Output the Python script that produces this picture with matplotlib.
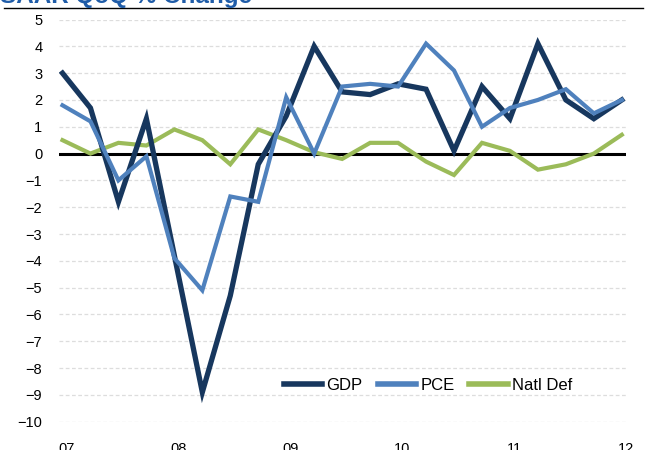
import matplotlib

matplotlib.use("Agg")

import matplotlib.pyplot as plt
from matplotlib.lines import Line2D

# quarterly SAAR % change, 2007Q1 .. 2012Q1
quarters = list(range(21))
gdp = [3.0, 1.7, -1.8, 1.3, -3.8, -8.9, -5.3, -0.4, 1.4, 4.0, 2.3,
       2.2, 2.6, 2.4, 0.1, 2.5, 1.3, 4.1, 2.0, 1.3, 2.0]
pce = [1.8, 1.2, -1.0, -0.1, -3.9, -5.1, -1.6, -1.8, 2.1, 0.0, 2.5,
       2.6, 2.5, 4.1, 3.1, 1.0, 1.7, 2.0, 2.4, 1.5, 2.0]
natl_def = [0.5, 0.0, 0.4, 0.3, 0.9, 0.5, -0.4, 0.9, 0.5, 0.05, -0.2,
            0.4, 0.4, -0.3, -0.8, 0.4, 0.1, -0.6, -0.4, 0.0, 0.7]
year_labels = ["07", "08", "09", "10", "11", "12"]
y_ticks = list(range(-10, 6))

plt.rcParams["font.family"] = ["Liberation Sans", "DejaVu Sans"]

fig = plt.figure(figsize=(6.53, 4.5), dpi=100, facecolor="white")
ax = fig.add_axes([59 / 653, 1 - 421.7 / 450, 567 / 653, 402.2 / 450])

ax.set_ylim(-10, 5)
ax.set_xlim(-0.125, 20.14)
ax.set_yticks(y_ticks)
for v in y_ticks:
    if v != 0:
        ax.axhline(v, color="#DDDDDD", lw=0.9, ls=(0, (3, 2)), zorder=0)
ax.axhline(0, color="black", lw=2.2, zorder=1)

ax.plot(quarters, gdp, color="#17375E", lw=3.8, label="GDP", zorder=3,
        solid_joinstyle="miter")
ax.plot(quarters, pce, color="#4F81BD", lw=3.0, label="PCE", zorder=4,
        solid_joinstyle="miter")
ax.plot(quarters, natl_def, color="#9BBB59", lw=3.0, label="Natl Def", zorder=2,
        solid_joinstyle="miter")

ax.set_xticks([i * 4 + 0.15 for i in range(len(year_labels))])
ax.set_xticklabels(year_labels)
for s in ax.spines.values():
    s.set_visible(False)
ax.tick_params(axis="both", length=0, labelsize=10.5, colors="black")
ax.tick_params(axis="x", pad=14.5)
ax.tick_params(axis="y", pad=12)

leg = ax.legend(loc="center", bbox_to_anchor=(0.651, 0.091), ncol=3,
                frameon=False, fontsize=12, handlelength=2.3,
                handletextpad=0.25, columnspacing=0.9)
for h in leg.get_lines():
    h.set_linewidth(4)

# cropped title and separator line
fig.text(0.0, 1 - 3 / 450, "SAAR QoQ % Change", color="#1F5CA8",
         fontsize=17.5, fontweight="bold", va="baseline", ha="left")
fig.add_artist(Line2D([4 / 653, 643 / 653], [1 - 8 / 450, 1 - 8 / 450],
                      transform=fig.transFigure, color="black", lw=1.0))

fig.savefig("out.png", dpi=100, facecolor="white")
